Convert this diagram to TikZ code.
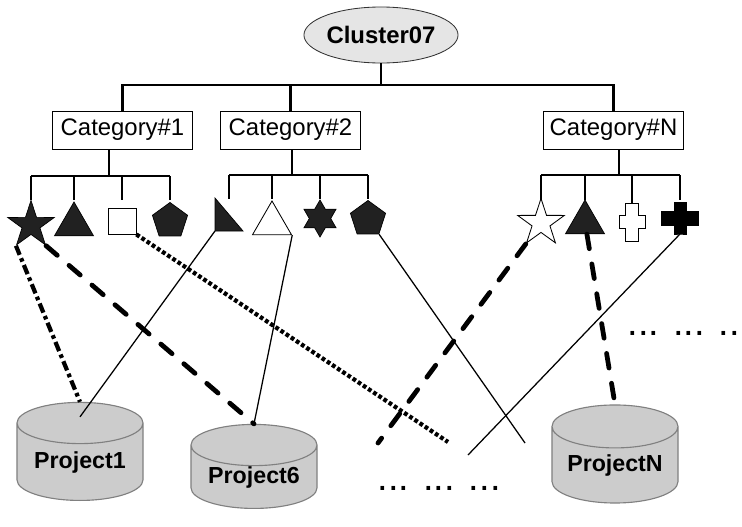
\documentclass[tikz,border=0pt]{standalone}
\usepackage{fontspec}
\setmainfont{Liberation Sans}
\usetikzlibrary{shapes.geometric}
\begin{document}
\begin{tikzpicture}[x=0.025cm, y=-0.025cm]
    \tikzstyle{cluster} = [ellipse, draw=black!80, fill=gray!20, line width=0.6pt, minimum width=3.45cm, minimum height=1.4cm, inner sep=0pt, font=\fontsize{17}{20}\selectfont\bfseries]
    \tikzstyle{category} = [rectangle, draw, line width=0.6pt, minimum width=3.5cm, minimum height=0.95cm, inner sep=0pt, font=\fontsize{17}{20}\selectfont]
    \tikzstyle{project} = [cylinder, shape border rotate=90, aspect=0.45, draw=gray, fill=gray!40, line width=0.8pt, minimum width=3.15cm, minimum height=2.45cm, inner sep=0pt, font=\fontsize{16.5}{20}\selectfont\bfseries]
    \tikzstyle{filled} = [draw=black, fill=black!87, line width=0.5pt, inner sep=0pt]
    \tikzstyle{hollow} = [draw=black, fill=white, line width=0.6pt, inner sep=0pt]
    \tikzstyle{trunk} = [line width=1.6pt]
    \tikzstyle{branch} = [line width=1pt]
    \tikzstyle{thinlink} = [line width=0.9pt]
    \tikzstyle{dashlink} = [line width=3.4pt, line cap=round, dash pattern=on 10.5pt off 11pt]
    \tikzstyle{dashdotlink} = [line width=3pt, dash pattern=on 7pt off 2.6pt on 2.6pt off 2.6pt]
    \tikzstyle{dotlink} = [line width=3pt, dash pattern=on 2.7pt off 1.7pt]
    \tikzstyle{dots} = [inner sep=0pt, anchor=base, font=\fontsize{27}{30}\selectfont]

    \useasboundingbox (0,0) rectangle (742,526);

    % Cluster and categories
    \node [cluster] (cluster) at (381,35) {Cluster07};
    \node [category] (cat1) at (122.5,130) {Category\#1};
    \node [category] (cat2) at (290.5,130) {Category\#2};
    \node [category] (catN) at (613.5,130) {Category\#N};

    \coordinate (bar) at (381,85);
    \draw [trunk] (cluster) -- (bar);
    \draw [trunk] (cat1.north) -- (cat1.north |- bar) -- (catN.north |- bar) -- (catN.north);
    \draw [trunk] (cat2.north) -- (cat2.north |- bar);

    % Symbols under Category#1
    \node [filled, star, star points=5, star point ratio=2.6, minimum size=1.225cm] (s11) at (31,225) {};
    \node [filled, regular polygon, regular polygon sides=3, minimum size=1.125cm] (s12) at (74,224.5) {};
    \node [hollow, rectangle, minimum width=0.7cm, minimum height=0.65cm] (s13) at (122,221) {};
    \node [filled, regular polygon, regular polygon sides=5, minimum size=0.925cm] (s14) at (170,221) {};

    % Symbols under Category#2
    \coordinate (s21) at (229,215);
    \draw [filled, shift={(s21)}] (-14,-17) -- (-14,16) coordinate (s21foot) -- (14,16) -- cycle;
    \node [hollow, regular polygon, regular polygon sides=3, minimum size=1.125cm] (s22) at (272,223.5) {};
    \node [filled, star, star points=6, star point ratio=1.73, minimum size=0.925cm] (s23) at (320,218.5) {};
    \node [filled, regular polygon, regular polygon sides=5, minimum size=0.925cm] (s24) at (368,219) {};

    % Symbols under Category#N
    \node [hollow, star, star points=5, star point ratio=2.6, minimum size=1.225cm] (sN1) at (541,223) {};
    \node [filled, regular polygon, regular polygon sides=3, minimum size=1.125cm] (sN2) at (585,222.5) {};
    \coordinate (sN3) at (632,222);
    \draw [hollow, shift={(sN3)}] (-6.5,-19) -- (6.5,-19) -- (6.5,-6.5) -- (13,-6.5) -- (13,6.5) -- (6.5,6.5) -- (6.5,19) -- (-6.5,19) -- (-6.5,6.5) -- (-13,6.5) -- (-13,-6.5) -- (-6.5,-6.5) -- cycle;
    \coordinate (sN4) at (680,218);
    \draw [filled, fill=black, shift={(sN4)}] (-6,-16) -- (6,-16) -- (6,-7) -- (18.5,-7) -- (18.5,7) -- (6,7) -- (6,16) -- (0,16) coordinate (sN4foot) -- (-6,16) -- (-6,7) -- (-18.5,7) -- (-18.5,-7) -- (-6,-7) -- cycle;

    % Branches
    \coordinate (fork1) at (109,176);
    \coordinate (fork2) at (292,175);
    \coordinate (forkN) at (619,175);
    \draw [branch] (cat1.south -| fork1) -- (fork1);
    \draw [branch] (cat2.south -| fork2) -- (fork2);
    \draw [branch] (catN.south -| forkN) -- (forkN);
    \draw [branch] (s11 |- fork1) -- (s14 |- fork1);
    \draw [branch] (s21 |- fork2) -- (s24 |- fork2);
    \draw [branch] (sN1 |- forkN) -- (sN4 |- forkN);
    \foreach \s in {s11,s12,s13,s14} \draw [branch] (\s |- fork1) -- (\s |- 0,200);
    \foreach \s in {s21,s22,s23,s24} \draw [branch] (\s |- fork2) -- (\s |- 0,199);
    \foreach \s in {sN1,sN2,sN4} \draw [branch] (\s |- forkN) -- (\s |- 0,200);
    \draw [branch] (sN3 |- forkN) -- (sN3 |- 0,203);

    % Projects
    \node [project] (p1) at (80,462) {Project1};
    \node [project, minimum height=1.575cm] (p6) at (254,477) {Project6};
    \node [project] (pN) at (615,465) {ProjectN};

    % Loose ends
    \coordinate (loose1) at (448,442);
    \coordinate (loose2) at (525,443);
    \coordinate (loose3) at (378,443);
    \coordinate (loose4) at (468,455);

    % Links
    \draw [dashdotlink] (s11.outer point 3) -- (p1.north);
    \draw [dashlink] (s11.outer point 4) -- (p6.north);
    \draw [thinlink] (s21foot) -- ([yshift=-0.375cm]p1.north);
    \draw [dotlink] (s13.south east) -- (loose1);
    \draw [thinlink] (s22.corner 3) -- (p6.north);
    \draw [thinlink] (s24.corner 4) -- (loose2);
    \draw [dashlink] (sN1.outer point 3) -- (loose3);
    \draw [dashlink] (sN2) -- (pN.north);
    \draw [thinlink] (sN4foot) -- (loose4);

    % More projects
    \node [dots] (more1) at (439,490) {... ... ...};
    \node [dots] (more2) at (689,335) {... ... ...};
\end{tikzpicture}
\end{document}
